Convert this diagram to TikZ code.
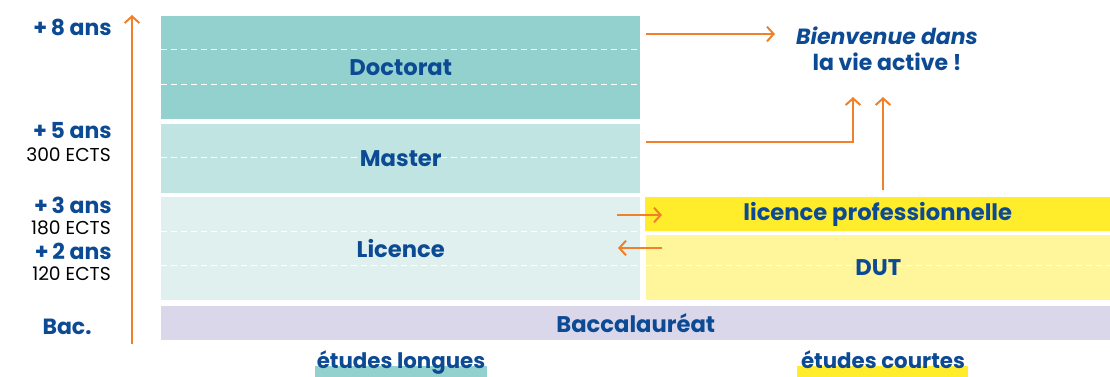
\documentclass[tikz,border=0pt]{standalone}
\usepackage{fontspec}
\setmainfont{Poppins}
\usetikzlibrary{arrows.meta,backgrounds}
\definecolor{ink}{HTML}{0D4A94}
\definecolor{arrowc}{HTML}{F0812A}
\definecolor{docc}{HTML}{93D1CF}
\definecolor{masc}{HTML}{BFE4E2}
\definecolor{licc}{HTML}{DFF0EF}
\definecolor{bacc}{HTML}{DAD7EB}
\definecolor{lpc}{HTML}{FFED2B}
\definecolor{dutc}{HTML}{FFF59A}
\tikzset{
  block/.style={inner sep=0pt, anchor=north west},
  dashsep/.style={white, line width=0.75pt, dash pattern=on 4.5pt off 3pt},
  lbl/.style={ink, inner sep=0pt, font=\bfseries\fontsize{17}{19}\selectfont},
  yr/.style={ink, anchor=east, inner sep=0pt, font=\bfseries\fontsize{16.5}{18}\selectfont},
  ects/.style={black, anchor=east, inner sep=0pt, font=\fontsize{14}{16}\selectfont},
  arr/.style={arrowc, line width=1.5pt, -{Straight Barb[length=5pt,width=11pt]}}
}
\begin{document}
\begin{tikzpicture}[x=0.75pt,y=-0.75pt]
\useasboundingbox (0,0) rectangle (1110,377);
% blocs
\node[block, fill=docc, minimum width=359.25pt, minimum height=77.25pt] (doc) at (161,16) {};
\node[block, fill=masc, minimum width=359.25pt, minimum height=51.75pt] (mas) at (161,124) {};
\node[block, fill=licc, minimum width=359.25pt, minimum height=77.25pt] (lic) at (161,197) {};
\node[block, fill=bacc, minimum width=711.75pt, minimum height=25.5pt] (bac) at (161,306) {};
\node[block, fill=lpc, minimum width=348.75pt, minimum height=25.5pt] (lp) at (645,197) {};
\node[block, fill=dutc, minimum width=348pt, minimum height=48.75pt] (dut) at (646,235) {};
% pointilles
\foreach \y in {50,85,158,232,266}
  \draw[dashsep] (161,\y) -- (640,\y);
\draw[dashsep] (646,266) -- (1110,266);
% textes des blocs
\node[lbl] (tdoc) at (doc.center) {Doctorat};
\node[lbl] (tmas) at (mas.center) {Master};
\node[lbl] (tlic) at (lic.center) {Licence};
\node[lbl] (tbac) at (bac.center) {Baccalauréat};
\node[lbl] (tlp) at (lp.center) {licence professionnelle};
\node[lbl] (tdut) at (dut.center) {DUT};
\node[ink, align=center, font=\bfseries\fontsize{16.5}{19.5}\selectfont] (vie) at (887,49)
  {\textit{Bienvenue dans}\\la vie active !};
% echelle des annees
\node[yr] (a8) at (112,27) {+\,8 ans};
\node[yr] (a5) at (112,131) {+\,5 ans};
\node[ects] (e5) at (111,155) {300 ECTS};
\node[yr] (a3) at (112,205) {+\,3 ans};
\node[ects] (e3) at (111,228) {180 ECTS};
\node[yr] (a2) at (112,251) {+\,2 ans};
\node[ects] (e2) at (111,274) {120 ECTS};
\node[yr, anchor=center] (abac) at (67,327) {Bac.};
\coordinate (axbas) at (132,344);
\coordinate (axhaut) at (132,15);
\draw[arr] (axbas) -- (axhaut);
% fleches
\coordinate (d1) at (646,34);
\coordinate (d2) at (775,34);
\draw[arr] (d1) -- (d2);
\coordinate (m1) at (646,142);
\coordinate (m2) at (853,97);
\draw[arr] (m1) -| (m2);
\coordinate (p1) at (883,190);
\coordinate (p2) at (883,97);
\draw[arr] (p1) -- (p2);
\coordinate (l1) at (617,215);
\coordinate (l2) at (662,215);
\draw[arr] (l1) -- (l2);
\coordinate (u1) at (662,248);
\coordinate (u2) at (618,248);
\draw[arr] (u1) -- (u2);
% legendes du bas
\node[lbl, font=\bfseries\fontsize{16}{18}\selectfont, anchor=base] (lon) at (401,369) {études longues};
\node[lbl, font=\bfseries\fontsize{16}{18}\selectfont, anchor=base] (cou) at (883,369) {études courtes};
\begin{scope}[on background layer]
  \fill[docc] (315,366) rectangle (487,377);
  \fill[lpc] (797,366) rectangle (968,377);
\end{scope}
\end{tikzpicture}
\end{document}
